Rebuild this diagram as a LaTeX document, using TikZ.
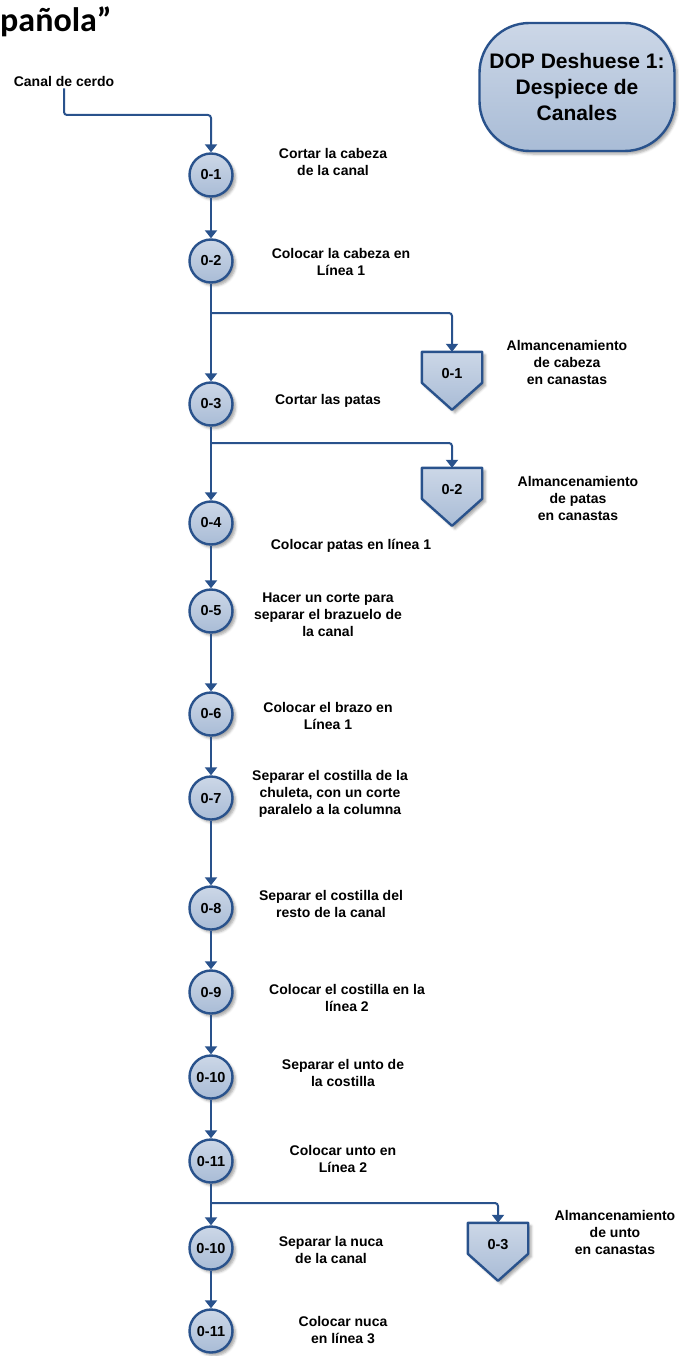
\documentclass[tikz,border=0pt]{standalone}
\usepackage{fontspec}
\setmainfont{Liberation Sans}
\newfontfamily\headfont{Carlito}
\usetikzlibrary{arrows.meta,shadows,shadows.blur,calc,backgrounds}

\definecolor{flowblue}{HTML}{29528C}
\definecolor{filltop}{HTML}{CCD7E7}
\definecolor{fillbot}{HTML}{A9BCD6}

\tikzset{
  softshadow/.style={blur shadow={shadow xshift=3pt, shadow yshift=-3pt,
      shadow blur radius=2.5pt, shadow opacity=35}},
  flow/.style={draw=flowblue, line width=2pt, rounded corners=3pt,
      -{Triangle[width=12pt,length=8pt]}},
  opnode/.style={circle, minimum size=43pt, inner sep=0pt, draw=flowblue,
      line width=2.4pt, top color=filltop, bottom color=fillbot, softshadow,
      font=\bfseries\fontsize{14.5}{16}\selectfont},
  desc/.style={align=center, inner sep=0pt,
      font=\bfseries\fontsize{14}{17}\selectfont},
  storelabel/.style={minimum width=60pt, minimum height=44pt, inner sep=0pt,
      font=\bfseries\fontsize{14.5}{16}\selectfont},
  storeshape/.style={draw=flowblue, line width=2.4pt, line join=round,
      top color=filltop, bottom color=fillbot, softshadow},
  dopbox/.style={rectangle, rounded corners=50pt, minimum width=195pt,
      minimum height=128pt, align=center, draw=flowblue, line width=2.4pt,
      top color=filltop, bottom color=fillbot, softshadow,
      font=\bfseries\fontsize{21}{26}\selectfont},
}

\begin{document}
\begin{tikzpicture}[x=1pt,y=-1pt]
\useasboundingbox (0,0) rectangle (678,1356);

% heading fragment and process reference
\node[anchor=base west, inner sep=0pt, font=\headfont\bfseries\fontsize{34}{34}\selectfont]
  (head) at (0,32) {pañola”};
\node[dopbox] (dop) at (577,87) {DOP Deshuese 1:\\Despiece de\\Canales};

% starting material
\node[desc] (canal) at (64,81) {Canal de cerdo};

% operations
\node[opnode] (c1)  at (211,175)  {0-1};
\node[opnode] (c2)  at (211,261)  {0-2};
\node[opnode] (c3)  at (211,404)  {0-3};
\node[opnode] (c4)  at (211,523)  {0-4};
\node[opnode] (c5)  at (211,611)  {0-5};
\node[opnode] (c6)  at (211,714)  {0-6};
\node[opnode] (c7)  at (211,798)  {0-7};
\node[opnode] (c8)  at (211,908)  {0-8};
\node[opnode] (c9)  at (211,992)  {0-9};
\node[opnode] (c10) at (211,1077) {0-10};
\node[opnode] (c11) at (211,1161) {0-11};
\node[opnode] (c12) at (211,1248) {0-10};
\node[opnode] (c13) at (211,1331) {0-11};

% operation descriptions
\node[desc] (d1)  at (333,162)  {Cortar la cabeza\\de la canal};
\node[desc] (d2)  at (341,262)  {Colocar la cabeza en\\Línea 1};
\node[desc] (d3)  at (328,401)  {Cortar las patas};
\node[desc] (d4)  at (351,546)  {Colocar patas en línea 1};
\node[desc] (d5)  at (328,615)  {Hacer un corte para\\separar el brazuelo de\\la canal};
\node[desc] (d6)  at (328,716)  {Colocar el brazo en\\Línea 1};
\node[desc] (d7)  at (330,794)  {Separar el costilla de la\\chuleta, con un corte\\paralelo a la columna};
\node[desc] (d8)  at (331,904)  {Separar el costilla del\\resto de la canal};
\node[desc] (d9)  at (347,998)  {Colocar el costilla en la\\línea 2};
\node[desc] (d10) at (343,1073) {Separar el unto de\\la costilla};
\node[desc] (d11) at (343,1159) {Colocar unto en\\Línea 2};
\node[desc] (d12) at (331,1250) {Separar la nuca\\de la canal};
\node[desc] (d13) at (343,1330) {Colocar nuca\\en línea 3};

% storage points
\node[storelabel] (p1) at (452,374)  {0-1};
\node[storelabel] (p2) at (452,490)  {0-2};
\node[storelabel] (p3) at (498,1245) {0-3};
\begin{scope}[on background layer]
  \foreach \p in {p1,p2,p3}{
    \draw[storeshape] (\p.north west) -- (\p.north east)
      -- ($(\p.north east)+(0,31)$) -- ($(\p.north)+(0,58)$)
      -- ($(\p.north west)+(0,31)$) -- cycle;
  }
\end{scope}
\node[desc] (s1) at (567,362)  {Almancenamiento\\de cabeza\\en canastas};
\node[desc] (s2) at (578,498)  {Almancenamiento\\de patas\\en canastas};
\node[desc] (s3) at (615,1232) {Almancenamiento\\de unto\\en canastas};

% bends of the flow lines
\coordinate (k0) at (211,115);
\coordinate (b1) at (211,313);
\coordinate (b2) at (211,443);
\coordinate (b3) at (211,1203);

% connectors
\draw[flow] (canal.south) ++(0,2) |- (k0) -- (c1);
\draw[flow] (c1) -- (c2);
\draw[flow] (c2) -- (c3);
\draw[flow] (c3) -- (c4);
\draw[flow] (c4) -- (c5);
\draw[flow] (c5) -- (c6);
\draw[flow] (c6) -- (c7);
\draw[flow] (c7) -- (c8);
\draw[flow] (c8) -- (c9);
\draw[flow] (c9) -- (c10);
\draw[flow] (c10) -- (c11);
\draw[flow] (c11) -- (c12);
\draw[flow] (c12) -- (c13);
\draw[flow] (b1) -| (p1.north);
\draw[flow] (b2) -| (p2.north);
\draw[flow] (b3) -| (p3.north);
\end{tikzpicture}
\end{document}
